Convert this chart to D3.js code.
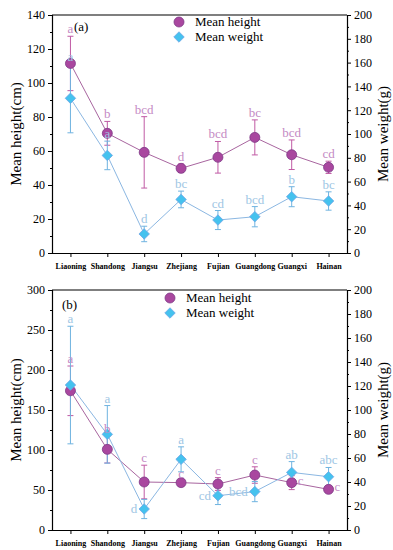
<!DOCTYPE html>
<html><head><meta charset="utf-8">
<script src="https://cdn.jsdelivr.net/npm/d3@7"></script>
<style>body{margin:0;background:#fff}svg{display:block}</style>
</head><body>
<svg id="c" width="393" height="550" font-family="Liberation Serif"></svg>
<script>
const categories = ["Liaoning","Shandong","Jiangsu","Zhejiang","Fujian","Guangdong","Guangxi","Hainan"];

// Panel (a)
const heightA = [111.5, 70.4, 59.2, 49.8, 56.3, 68.0, 57.8, 50.4];
const heightErrA = [16, 7, 21, 2.5, 9.3, 10.3, 8.7, 3.6];
const weightA = [130, 82, 16, 45, 27.7, 30.5, 47.3, 43.7];
const weightErrA = [29, 12, 6.5, 7, 8, 8.5, 8.4, 7.7];
const heightLettersA = ["a","b","bcd","d","bcd","bc","bcd","cd"];
const weightLettersA = ["a","a","d","bc","cd","bcd","b","bc"];

// Panel (b)
const heightB = [174, 100.8, 60, 59.2, 57.5, 68.7, 59.2, 50.8];
const heightErrB = [31, 17, 21, 2.5, 8, 10.3, 8.7, 3.5];
const weightB = [120.8, 79.7, 17.5, 58.9, 28.6, 32, 48, 44.4];
const weightErrB = [49, 24, 8, 10.4, 7.4, 8.4, 9, 7.7];
const heightLettersB = ["a","b","c","c","c","c","c","c"];
const weightLettersB = ["a","a","d","a","cd","bcd","ab","abc"];
const heightPlaceB = ["top","top","top","top","top","top","right","right"];
const weightPlaceB = ["top","top","left","top","left","left","top","top"];

const leftTicksA = [0,20,40,60,80,100,120,140];
const leftTicksB = [0,50,100,150,200,250,300];
const rightTicks = [0,20,40,60,80,100,120,140,160,180,200];

const FONT = "Liberation Serif";
const HCOL = "#a9479f", HEDGE = "#7e3a86", HLINE = "#a8659f", HERR = "#c05aa4", HTXT = "#c48ac4";
const WCOL = "#45c2ee", WEDGE = "#6fa6e6", WLINE = "#8bb7e2", WERR = "#6fb3e0", WTXT = "#9ec6e4";

const svg = d3.select("#c");

function panel(cfg){
  const g = svg.append("g");
  const x = d3.scalePoint().domain(categories).range([52,347]).padding(0.5);
  const yL = d3.scaleLinear().domain([0,cfg.leftMax]).range([cfg.y0,cfg.y1]);
  const yR = d3.scaleLinear().domain([0,200]).range([cfg.y0,cfg.y1]);

  g.append("line").attr("x1",52).attr("x2",347).attr("y1",cfg.y1).attr("y2",cfg.y1).attr("stroke","#000").attr("stroke-width",1.2);

  const left = g.append("g").attr("transform","translate(52,0)")
    .call(d3.axisLeft(yL).tickValues(cfg.leftTicks).tickSize(4).tickPadding(3));
  const lminor = [];
  for(let i=0;i<cfg.leftTicks.length-1;i++) lminor.push((cfg.leftTicks[i]+cfg.leftTicks[i+1])/2);
  g.append("g").attr("transform","translate(52,0)").call(d3.axisLeft(yL).tickValues(lminor).tickSize(2).tickFormat(""))
    .call(a=>a.select(".domain").remove());
  const right = g.append("g").attr("transform","translate(347,0)")
    .call(d3.axisRight(yR).tickValues(rightTicks).tickSize(4).tickPadding(3));
  const rminor = rightTicks.slice(0,-1).map(v=>v+10);
  g.append("g").attr("transform","translate(347,0)").call(d3.axisRight(yR).tickValues(rminor).tickSize(2).tickFormat(""))
    .call(a=>a.select(".domain").remove());
  const bottom = g.append("g").attr("transform",`translate(0,${cfg.y0})`)
    .call(d3.axisBottom(x).tickSize(4).tickPadding(6).tickSizeOuter(0));
  g.selectAll("g").attr("font-family",FONT);
  bottom.selectAll("text").attr("font-weight","bold").attr("font-size","8px");
  [left,right].forEach(a=>a.selectAll("text").attr("font-size","12px"));
  g.selectAll(".domain").attr("stroke","#000").attr("stroke-width",1.2);
  g.selectAll(".tick line").attr("stroke","#000");
  g.selectAll("text").attr("font-family",FONT).attr("fill","#000");

  const yc = (cfg.y0+cfg.y1)/2;
  g.append("text").attr("transform",`translate(21,${yc}) rotate(-90)`).attr("text-anchor","middle")
    .attr("font-family",FONT).attr("font-size","15px").text("Mean height(cm)");
  g.append("text").attr("transform",`translate(388,${yc}) rotate(-90)`).attr("text-anchor","middle")
    .attr("font-family",FONT).attr("font-size","15px").text("Mean weight(g)");

  const hLine = d3.line().x((d,i)=>x(categories[i])).y(d=>yL(d));
  const wLine = d3.line().x((d,i)=>x(categories[i])).y(d=>yR(d));
  g.append("path").attr("d",hLine(cfg.h)).attr("fill","none").attr("stroke",HLINE).attr("stroke-width",1);
  g.append("path").attr("d",wLine(cfg.w)).attr("fill","none").attr("stroke",WLINE).attr("stroke-width",1);

  function errbars(vals, errs, sc, col){
    vals.forEach((v,i)=>{
      const cx = x(categories[i]);
      const t = sc(v+errs[i]), b = sc(Math.max(0,v-errs[i]));
      g.append("line").attr("x1",cx).attr("x2",cx).attr("y1",t).attr("y2",b).attr("stroke",col).attr("stroke-width",1);
      [t,b].forEach(yy=>g.append("line").attr("x1",cx-3).attr("x2",cx+3).attr("y1",yy).attr("y2",yy).attr("stroke",col).attr("stroke-width",1));
    });
  }
  errbars(cfg.h, cfg.he, yL, HERR);
  errbars(cfg.w, cfg.we, yR, WERR);

  cfg.h.forEach((v,i)=>{
    g.append("circle").attr("cx",x(categories[i])).attr("cy",yL(v)).attr("r",5)
      .attr("fill",HCOL).attr("stroke",HEDGE).attr("stroke-width",0.8);
  });
  const diamond = d3.symbol().type(d3.symbolDiamond2).size(70);
  cfg.w.forEach((v,i)=>{
    g.append("path").attr("d",diamond()).attr("transform",`translate(${x(categories[i])},${yR(v)})`)
      .attr("fill",WCOL).attr("stroke",WEDGE).attr("stroke-width",0.8);
  });

  function letters(vals, errs, sc, lets, place, col){
    vals.forEach((v,i)=>{
      const cx = x(categories[i]);
      const p = place ? place[i] : "top";
      let tx = cx, ty, anchor = "middle";
      if(p==="top"){ ty = sc(v+errs[i]) - 3; }
      else if(p==="left"){ tx = cx-7; ty = sc(v)+4; anchor="end"; }
      else { tx = cx+6; ty = sc(v)+2; anchor="start"; }
      g.append("text").attr("x",tx).attr("y",ty).attr("text-anchor",anchor)
        .attr("font-family",FONT).attr("font-size","13px").attr("fill",col).text(lets[i]);
    });
  }
  letters(cfg.h, cfg.he, yL, cfg.hl, cfg.hp, HTXT);
  letters(cfg.w, cfg.we, yR, cfg.wl, cfg.wp, WTXT);

  const lx = cfg.legX, ly = cfg.legY;
  g.append("circle").attr("cx",lx).attr("cy",ly).attr("r",5).attr("fill",HCOL).attr("stroke",HEDGE).attr("stroke-width",0.8);
  g.append("path").attr("d",diamond()).attr("transform",`translate(${lx},${ly+15})`).attr("fill",WCOL).attr("stroke",WEDGE).attr("stroke-width",0.8);
  g.append("text").attr("x",lx+16).attr("y",ly+4).attr("font-family",FONT).attr("font-size","13px").text("Mean height");
  g.append("text").attr("x",lx+16).attr("y",ly+19).attr("font-family",FONT).attr("font-size","13px").text("Mean weight");

  g.append("text").attr("x",cfg.labX).attr("y",cfg.labY).attr("font-family",FONT).attr("font-size","13px").text(cfg.label);
}

panel({y0:253,y1:15,leftMax:140,leftTicks:leftTicksA,h:heightA,he:heightErrA,w:weightA,we:weightErrA,
  hl:heightLettersA,wl:weightLettersA,hp:null,wp:null,legX:179,legY:22,label:"(a)",labX:74,labY:31});
panel({y0:530,y1:290,leftMax:300,leftTicks:leftTicksB,h:heightB,he:heightErrB,w:weightB,we:weightErrB,
  hl:heightLettersB,wl:weightLettersB,hp:heightPlaceB,wp:weightPlaceB,legX:170,legY:298,label:"(b)",labX:62,labY:309});
</script>
</body></html>
